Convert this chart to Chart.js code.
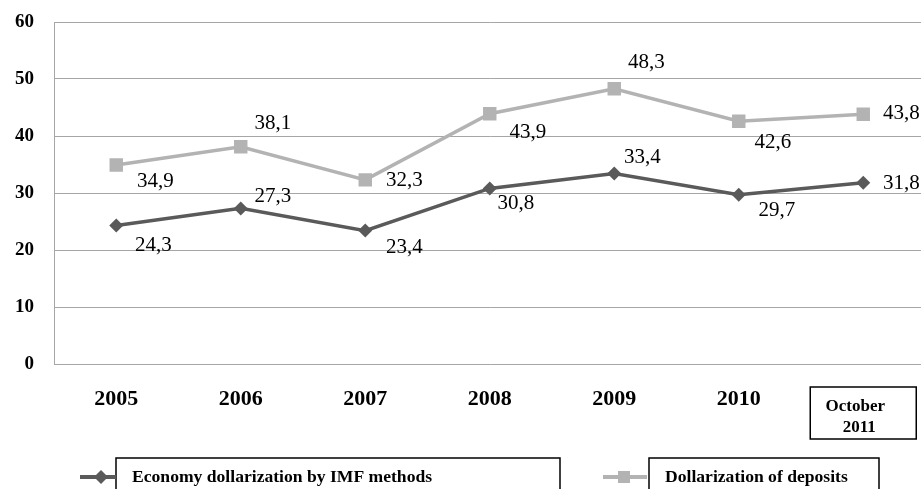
<!DOCTYPE html>
<html>
<head>
<meta charset="utf-8">
<script src="https://cdn.jsdelivr.net/npm/chart.js@4/dist/chart.umd.min.js"></script>
<style>
  html, body { margin: 0; padding: 0; overflow: hidden; background: #fff; }
  #wrap { width: 935px; height: 489px; }
</style>
</head>
<body>
<div id="wrap"><canvas id="graph"></canvas></div>
<script>
// donnees
const categories = ["2005", "2006", "2007", "2008", "2009", "2010", "October 2011"];
const imfValues = [24.3, 27.3, 23.4, 30.8, 33.4, 29.7, 31.8];
const depositValues = [34.9, 38.1, 32.3, 43.9, 48.3, 42.6, 43.8];
const yTicks = [0, 10, 20, 30, 40, 50, 60];
const seriesNames = ["Economy dollarization by IMF methods", "Dollarization of deposits"];

// decalage des etiquettes par rapport aux points (px)
const imfLabelOffsets = [[37, 20], [32, -12], [39, 17], [26, 15], [28, -16], [38, 16], [38, 1]];
const depLabelOffsets = [[39, 16], [32, -23], [39, 1], [38, 19], [32, -26], [34, 21], [38, -1]];

const darkGrey = "#5a5a5a";
const lightGrey = "#b3b3b3";
const serif = "'Liberation Serif', 'Times New Roman', serif";

// etiquettes de valeurs avec virgule
const valueLabels = {
  id: "valueLabels",
  afterDatasetsDraw(chart) {
    const ctx = chart.ctx;
    ctx.save();
    ctx.font = "21px " + serif;
    ctx.fillStyle = "#000";
    ctx.textAlign = "center";
    ctx.textBaseline = "middle";
    const offs = [imfLabelOffsets, depLabelOffsets];
    chart.data.datasets.forEach((ds, i) => {
      chart.getDatasetMeta(i).data.forEach((pt, j) => {
        const txt = ds.data[j].toFixed(1).replace(".", ",");
        ctx.fillText(txt, pt.x + offs[i][j][0], pt.y + offs[i][j][1]);
      });
    });
    ctx.restore();
  },
};

// derniere categorie dans un cadre + legende encadree
const boxes = {
  id: "boxes",
  afterDraw(chart) {
    const ctx = chart.ctx;
    const xs = chart.scales.x;
    ctx.save();
    // cadre "October 2011"
    const lx = xs.getPixelForValue(categories.length - 1);
    ctx.strokeStyle = "#000";
    ctx.lineWidth = 1.5;
    ctx.strokeRect(lx - 53, 387, 106, 52);
    ctx.font = "bold 17px " + serif;
    ctx.fillStyle = "#000";
    ctx.textAlign = "center";
    ctx.textBaseline = "middle";
    const parts = categories[categories.length - 1].split(" ");
    ctx.fillText(parts[0], lx - 8, 407);
    ctx.fillText(parts[1], lx - 4, 428);

    // legende
    ctx.strokeRect(116, 458, 444, 40);
    ctx.strokeRect(649, 458, 230, 40);
    ctx.font = "bold 17.6px " + serif;
    ctx.textAlign = "left";
    ctx.fillText(seriesNames[0], 132, 477);
    ctx.fillText(seriesNames[1], 665, 477);

    ctx.lineWidth = 4;
    ctx.strokeStyle = darkGrey;
    ctx.beginPath(); ctx.moveTo(80, 477); ctx.lineTo(116, 477); ctx.stroke();
    ctx.fillStyle = darkGrey;
    ctx.beginPath();
    ctx.moveTo(101, 470); ctx.lineTo(108, 477); ctx.lineTo(101, 484); ctx.lineTo(94, 477);
    ctx.closePath(); ctx.fill();

    ctx.strokeStyle = lightGrey;
    ctx.beginPath(); ctx.moveTo(603, 477); ctx.lineTo(647, 477); ctx.stroke();
    ctx.fillStyle = lightGrey;
    ctx.fillRect(618, 471, 12, 12);
    ctx.restore();
  },
};

let ctx = document.querySelector("#graph");
let graph = new Chart(ctx, {
  type: "line",
  data: {
    labels: categories,
    datasets: [
      {
        label: seriesNames[0],
        data: imfValues,
        borderColor: darkGrey,
        backgroundColor: darkGrey,
        borderWidth: 3.5,
        pointStyle: "rectRot",
        pointRadius: 7,
        pointBorderWidth: 0,
        tension: 0,
      },
      {
        label: seriesNames[1],
        data: depositValues,
        borderColor: lightGrey,
        backgroundColor: lightGrey,
        borderWidth: 3.5,
        pointStyle: "rect",
        pointRadius: 9.5,
        pointBorderWidth: 0,
        tension: 0,
      },
    ],
  },
  options: {
    responsive: true,
    maintainAspectRatio: false,
    animation: false,
    layout: { padding: { top: 22, right: 0, bottom: 0, left: 0 } },
    plugins: {
      legend: { display: false },
      tooltip: { enabled: false },
    },
    scales: {
      x: {
        offset: true,
        grid: { display: false },
        border: { display: false },
        ticks: {
          padding: 14,
          color: "#000",
          font: { family: serif, size: 22, weight: "bold" },
          callback: (v, i) => (i === categories.length - 1 ? "" : categories[i]),
        },
        afterFit: (scale) => {
          scale.height = 125;
          scale.paddingLeft = 0;
          scale.paddingRight = 0;
        },
      },
      y: {
        min: 0,
        max: 60,
        afterBuildTicks: (scale) => { scale.ticks = yTicks.map((v) => ({ value: v })); },
        grid: { color: "#a6a6a6", lineWidth: 1, drawTicks: false, tickLength: 0 },
        border: { display: true, color: "#a6a6a6", width: 1 },
        ticks: {
          padding: 20,
          color: "#000",
          font: { family: serif, size: 19, weight: "bold" },
        },
        afterFit: (scale) => {
          scale.width = 54;
          scale.paddingTop = 0;
          scale.paddingBottom = 0;
        },
      },
    },
  },
  plugins: [valueLabels, boxes],
});
</script>
</body>
</html>
